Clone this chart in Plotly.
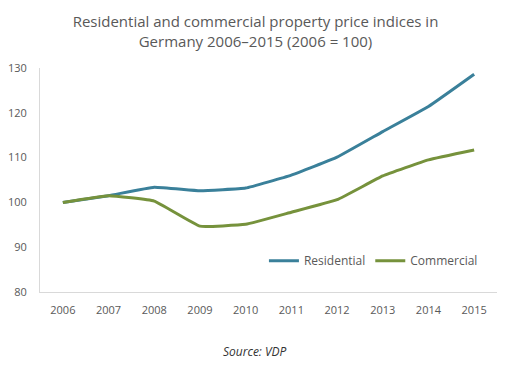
import plotly.graph_objects as go

years = [2006, 2007, 2008, 2009, 2010, 2011, 2012, 2013, 2014, 2015]
residential = [100.0, 101.5, 103.4, 102.6, 103.2, 106.1, 110.1, 115.8, 121.4, 128.6]
commercial = [100.0, 101.5, 100.3, 94.7, 95.1, 97.8, 100.6, 105.9, 109.5, 111.7]
y_ticks = [80, 90, 100, 110, 120, 130]

title_text = "Residential and commercial property price indices in<br>Germany 2006\u20132015 (2006 = 100)"
source_text = "<i>Source: VDP</i>"

FONT = "Open Sans, Noto Sans, sans-serif"
GRAY = "#595959"

fig = go.Figure()
fig.add_trace(go.Scatter(x=years, y=residential, name="Residential", mode="lines",
                         line=dict(color="#3a809a", width=3, shape="spline", smoothing=0.3)))
fig.add_trace(go.Scatter(x=years, y=commercial, name="Commercial", mode="lines",
                         line=dict(color="#76923c", width=3, shape="spline", smoothing=0.3)))

fig.update_layout(
    width=511, height=370,
    margin=dict(l=40, r=14, t=68, b=78, autoexpand=False),
    paper_bgcolor="white", plot_bgcolor="white",
    font=dict(family=FONT, color=GRAY, size=11),
    title=dict(text=title_text, x=0.5, xanchor="center", y=0.927, yanchor="top",
               font=dict(family=FONT, size=15, color=GRAY)),
    xaxis=dict(range=[2005.5, 2015.5], tickmode="array", tickvals=years,
               ticktext=[str(y) for y in years], showgrid=False, zeroline=False,
               showline=True, linecolor="#d9d9d9", linewidth=1, ticks="",
               ticklabelstandoff=8, fixedrange=True, automargin=False),
    yaxis=dict(range=[80, 130], tickmode="array", tickvals=y_ticks, showgrid=False,
               zeroline=False, showline=True, linecolor="#d9d9d9", linewidth=1,
               ticks="", ticklabelstandoff=10, fixedrange=True, automargin=False),
    legend=dict(orientation="h", x=0.49, xanchor="left", y=0.14, yanchor="middle",
                font=dict(size=12, color=GRAY), bgcolor="rgba(0,0,0,0)",
                itemwidth=30, tracegroupgap=0),
    showlegend=True,
)

fig.add_annotation(text=source_text, xref="paper", yref="paper", x=0.47, y=-0.265,
                   xanchor="center", yanchor="middle", showarrow=False,
                   font=dict(family=FONT, size=12, color="#333333"))

fig.write_html("out.html", config={"displayModeBar": False},
               post_script="document.body.style.margin='0';")
